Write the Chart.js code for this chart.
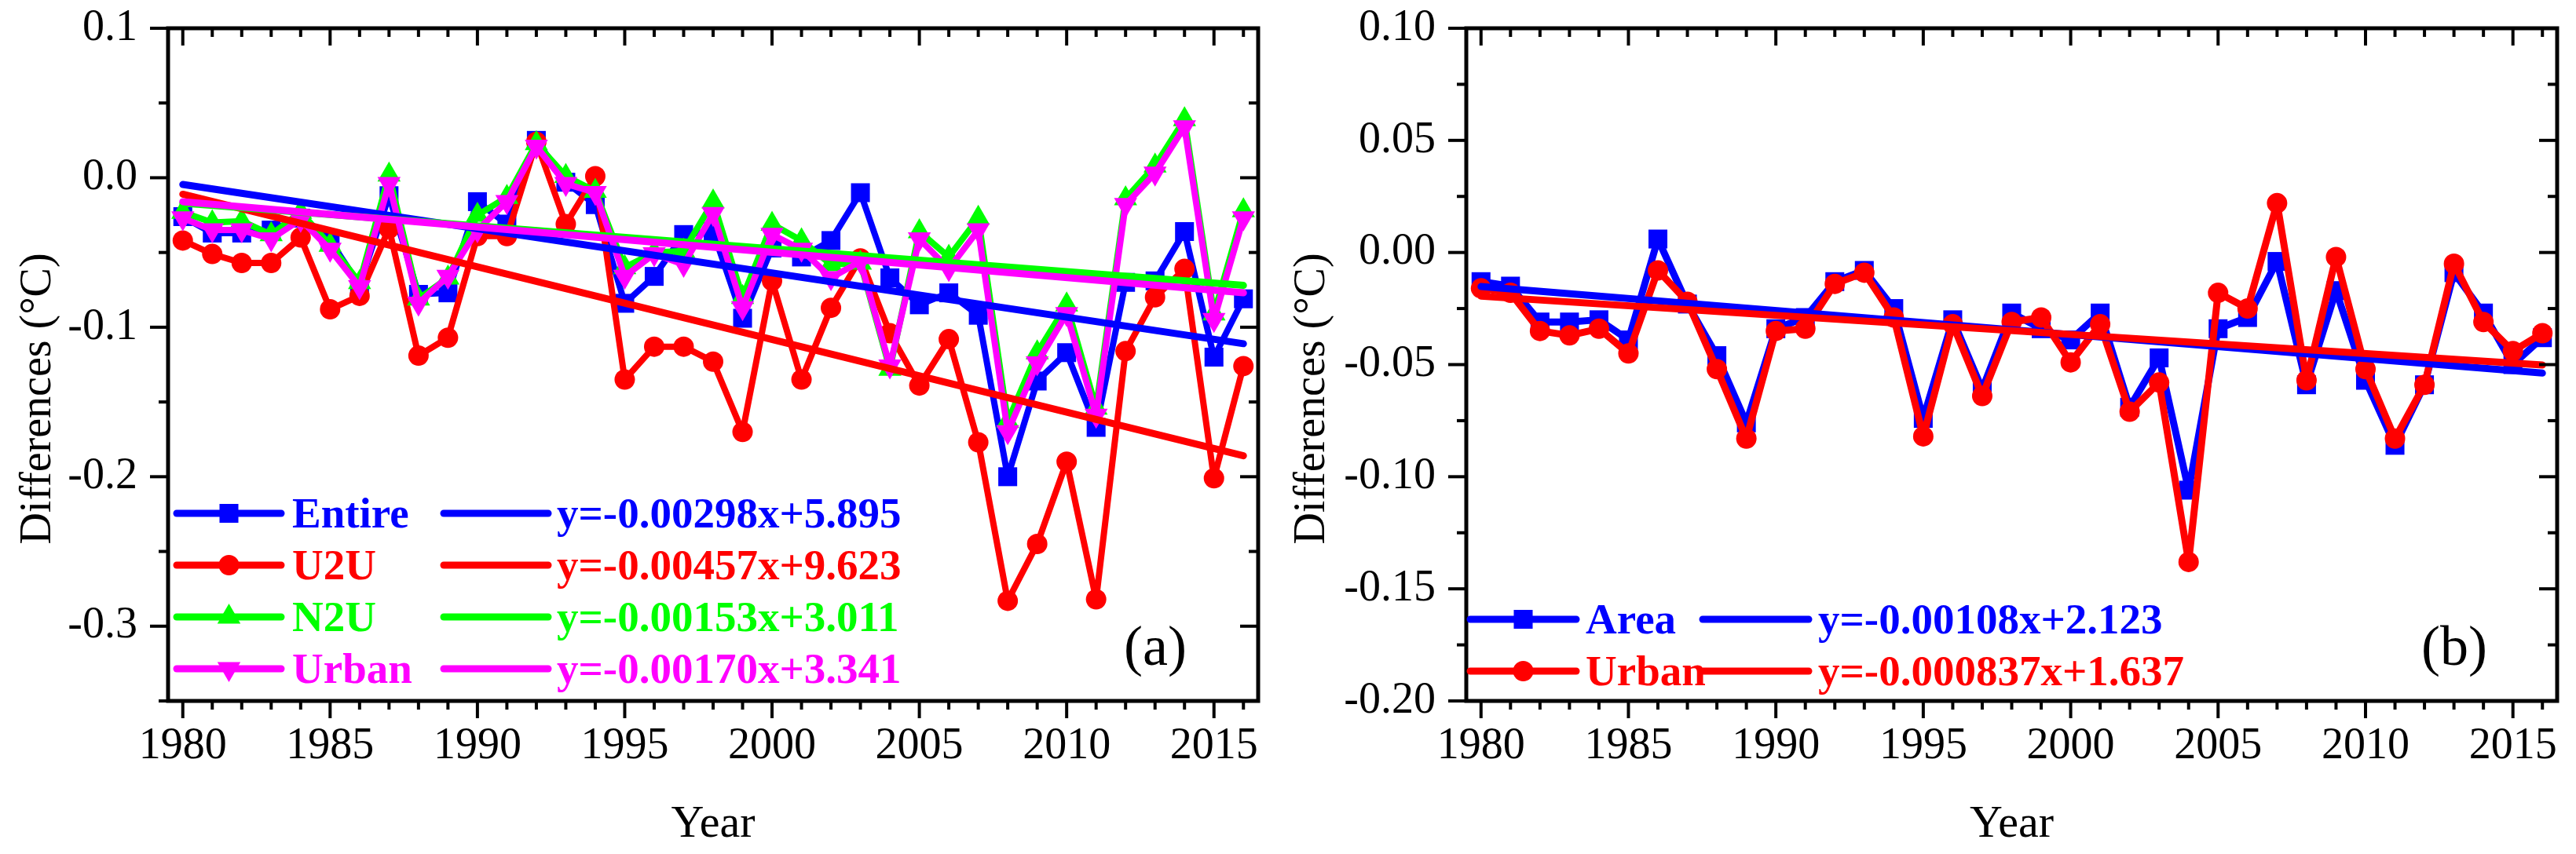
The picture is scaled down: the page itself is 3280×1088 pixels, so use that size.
<!DOCTYPE html>
<html>
<head>
<meta charset="utf-8">
<title>Differences</title>
<script src="https://cdn.jsdelivr.net/npm/chart.js"></script>
<style>
html,body{margin:0;padding:0;background:#ffffff;width:3280px;height:1088px;overflow:hidden}
#wrap{display:flex;width:3280px;height:1088px}
canvas{display:block}
</style>
</head>
<body>
<div id="wrap"><canvas id="chartA" width="1640" height="1088"></canvas><canvas id="chartB" width="1640" height="1088"></canvas></div>
<script>
// ---------------- data ----------------
const years = [1980,1981,1982,1983,1984,1985,1986,1987,1988,1989,1990,1991,1992,1993,1994,1995,1996,1997,1998,1999,2000,2001,2002,2003,2004,2005,2006,2007,2008,2009,2010,2011,2012,2013,2014,2015,2016];

// panel (a)
const entire = [-0.026,-0.037,-0.037,-0.035,-0.027,-0.042,-0.072,-0.012,-0.078,-0.077,-0.016,-0.031,0.025,-0.003,-0.018,-0.084,-0.066,-0.038,-0.036,-0.094,-0.047,-0.053,-0.042,-0.010,-0.067,-0.085,-0.077,-0.092,-0.200,-0.136,-0.117,-0.167,-0.070,-0.069,-0.036,-0.120,-0.081];
const u2u = [-0.042,-0.051,-0.057,-0.057,-0.040,-0.088,-0.079,-0.034,-0.119,-0.107,-0.039,-0.039,0.024,-0.031,0.001,-0.135,-0.113,-0.113,-0.123,-0.170,-0.069,-0.135,-0.087,-0.054,-0.104,-0.139,-0.108,-0.177,-0.283,-0.245,-0.190,-0.282,-0.116,-0.080,-0.061,-0.201,-0.126];
const n2u = [-0.023,-0.030,-0.029,-0.038,-0.023,-0.045,-0.070,0.002,-0.081,-0.067,-0.025,-0.013,0.023,0.001,-0.009,-0.060,-0.050,-0.049,-0.016,-0.080,-0.031,-0.042,-0.058,-0.057,-0.128,-0.036,-0.053,-0.027,-0.163,-0.117,-0.085,-0.154,-0.014,0.008,0.039,-0.091,-0.022];
const urbanA = [-0.027,-0.035,-0.035,-0.041,-0.028,-0.048,-0.073,-0.004,-0.084,-0.066,-0.035,-0.016,0.021,-0.004,-0.010,-0.066,-0.051,-0.058,-0.024,-0.087,-0.038,-0.048,-0.067,-0.056,-0.126,-0.041,-0.061,-0.035,-0.170,-0.124,-0.091,-0.159,-0.018,0.003,0.034,-0.095,-0.027];

// panel (b)
const area = [-0.013,-0.015,-0.031,-0.031,-0.030,-0.039,0.006,-0.023,-0.046,-0.076,-0.034,-0.029,-0.013,-0.008,-0.025,-0.074,-0.030,-0.061,-0.027,-0.034,-0.039,-0.027,-0.069,-0.047,-0.106,-0.034,-0.029,-0.004,-0.059,-0.017,-0.057,-0.086,-0.059,-0.009,-0.027,-0.050,-0.038];
const urbanB = [-0.016,-0.018,-0.035,-0.037,-0.034,-0.045,-0.008,-0.022,-0.052,-0.083,-0.035,-0.034,-0.014,-0.009,-0.029,-0.082,-0.032,-0.064,-0.031,-0.029,-0.049,-0.032,-0.071,-0.058,-0.138,-0.018,-0.025,0.022,-0.057,-0.002,-0.052,-0.083,-0.059,-0.005,-0.031,-0.044,-0.036];

// linear fit lines (values at first and last year)
const fitYears = [1980, 2016];
const fitEntire = [-0.0045, -0.111];
const fitU2U = [-0.011, -0.186];
const fitN2U = [-0.017, -0.072];
const fitUrbanA = [-0.016, -0.077];
const fitArea = [-0.0152, -0.0538];
const fitUrbanB = [-0.0195, -0.0502];

// tick labels
const xTickLabels = [1980,1985,1990,1995,2000,2005,2010,2015];
const yTickLabelsA = [0.1, 0.0, -0.1, -0.2, -0.3];
const yTickLabelsB = [0.10, 0.05, 0.00, -0.05, -0.10, -0.15, -0.20];

// legend texts
const legendNamesA = ['Entire', 'U2U', 'N2U', 'Urban'];
const equationsA = ['y=-0.00298x+5.895', 'y=-0.00457x+9.623', 'y=-0.00153x+3.011', 'y=-0.00170x+3.341'];
const legendNamesB = ['Area', 'Urban'];
const equationsB = ['y=-0.00108x+2.123', 'y=-0.000837x+1.637'];

// ---------------- styling / helpers ----------------
const FONT = "'Liberation Serif', 'Times New Roman', Times, serif";
const BLUE = '#0000ff', RED = '#ff0000', GREEN = '#00ff00', MAGENTA = '#ff00ff';
Chart.defaults.font.family = FONT;
Chart.defaults.color = '#000';

function series(vals) { return years.map((yr, i) => ({x: yr, y: vals[i]})); }
function fitLine(ends) { return fitYears.map((yr, i) => ({x: yr, y: ends[i]})); }

function dataDs(label, vals, color, style, radius, rotation, lw, order) {
  return {
    label, data: series(vals), order,
    borderColor: color, backgroundColor: color, borderWidth: lw,
    borderJoinStyle: 'round', tension: 0,
    pointStyle: style, pointRadius: radius, pointRotation: rotation,
    pointBackgroundColor: color, pointBorderColor: color, pointBorderWidth: 0,
    pointHoverRadius: radius
  };
}
function fitDs(label, ends, color, lw, order) {
  return {
    label, data: fitLine(ends), order,
    borderColor: color, backgroundColor: color, borderWidth: lw,
    borderCapStyle: 'round', pointRadius: 0, pointHoverRadius: 0, tension: 0
  };
}

const decor = {
  id: 'decor',
  afterDatasetsDraw(chart, args, o) {
    const {ctx, chartArea: a} = chart;
    const xs = chart.scales.x, ys = chart.scales.y;
    const seg = (x0, y0, x1, y1) => { ctx.beginPath(); ctx.moveTo(x0, y0); ctx.lineTo(x1, y1); ctx.stroke(); };
    ctx.save();
    // ticks
    ctx.strokeStyle = '#000'; ctx.lineWidth = 4; ctx.lineCap = 'butt';
    years.forEach(v => {
      const px = xs.getPixelForValue(v);
      const L = xTickLabels.includes(v) ? 22 : 11;
      seg(px, a.bottom, px, a.bottom + L);
      seg(px, a.top, px, a.top + L);
    });
    const yt = (vals, L) => vals.forEach(v => {
      const py = ys.getPixelForValue(v);
      seg(a.left - L, py, a.left, py);
      seg(a.right - L, py, a.right, py);
    });
    yt(o.yMajor, 23); yt(o.yMinor, 12);
    // frame
    ctx.lineWidth = 5; ctx.lineJoin = 'miter';
    ctx.strokeRect(a.left, a.top, a.right - a.left, a.bottom - a.top);

    // legend
    o.legend.forEach((it, i) => {
      const y = o.legendY[i];
      ctx.strokeStyle = it.color; ctx.fillStyle = it.color;
      ctx.lineWidth = o.lw; ctx.lineCap = 'round';
      seg(o.lx0, y, o.lx1, y);
      Chart.helpers.drawPoint(ctx, {pointStyle: it.style, radius: it.radius, rotation: it.rotation || 0, borderWidth: 0}, (o.lx0 + o.lx1) / 2, y);
      seg(o.fx0, y, o.fx1, y);
      ctx.font = `bold 55px ${FONT}`;
      ctx.textAlign = 'left'; ctx.textBaseline = 'alphabetic';
      ctx.fillText(it.name, o.tx, y + 18);
      ctx.fillText(it.eq, o.ex, y + 18);
    });

    // axis titles and panel tag
    ctx.fillStyle = '#000';
    ctx.textAlign = 'center'; ctx.textBaseline = 'alphabetic';
    ctx.font = `58px ${FONT}`;
    ctx.fillText('Year', (a.left + a.right) / 2, 1066);
    ctx.save();
    ctx.translate(o.yTitleX, 508);
    ctx.rotate(-Math.PI / 2);
    ctx.font = `56px ${FONT}`;
    ctx.fillText('Differences (\u00B0C)', 0, 0);
    ctx.restore();
    ctx.font = `72px ${FONT}`;
    ctx.fillText(o.tag, a.right - 131, 847);
    ctx.restore();
  }
};

function noPad(s) { s.paddingTop = 0; s.paddingBottom = 0; s.paddingLeft = 0; s.paddingRight = 0; }

function makeChart(id, cfg) {
  return new Chart(document.getElementById(id), {
    type: 'line',
    data: {datasets: cfg.datasets},
    plugins: [decor],
    options: {
      responsive: false,
      devicePixelRatio: 1,
      animation: false,
      events: [],
      layout: {padding: {left: 0, right: cfg.padRight, top: 36, bottom: 0}},
      scales: {
        x: {
          type: 'linear', min: 1979.5, max: 2016.5,
          afterBuildTicks: s => { s.ticks = xTickLabels.map(v => ({value: v})); },
          ticks: {font: {family: FONT, size: 56, weight: 'normal'}, color: '#000', padding: 25, maxRotation: 0, autoSkip: false,
                  callback: v => String(v)},
          grid: {display: false, drawTicks: false},
          border: {display: false},
          afterFit: s => { s.height = 1088 - 893; noPad(s); }
        },
        y: {
          type: 'linear', min: cfg.yMin, max: cfg.yMax,
          afterBuildTicks: s => { s.ticks = cfg.yLabels.map(v => ({value: v})); },
          ticks: {font: {family: FONT, size: 56, weight: 'normal'}, color: '#000', padding: 39, autoSkip: false,
                  callback: v => Number(v).toFixed(cfg.digits)},
          grid: {display: false, drawTicks: false},
          border: {display: false},
          afterFit: s => { s.width = cfg.yWidth; noPad(s); }
        }
      },
      plugins: {
        legend: {display: false},
        tooltip: {enabled: false},
        decor: cfg.decor
      }
    }
  });
}

// ---------------- panel (a) ----------------
makeChart('chartA', {
  yMin: -0.35, yMax: 0.1, yLabels: yTickLabelsA, digits: 1, yWidth: 214, padRight: 38,
  datasets: [
    fitDs('Urban fit', fitUrbanA, MAGENTA, 9, 0),
    fitDs('N2U fit', fitN2U, GREEN, 9, 1),
    fitDs('U2U fit', fitU2U, RED, 9, 2),
    fitDs('Entire fit', fitEntire, BLUE, 9, 3),
    dataDs(legendNamesA[3], urbanA, MAGENTA, 'triangle', 17, 180, 8, 4),
    dataDs(legendNamesA[2], n2u, GREEN, 'triangle', 17, 0, 8, 5),
    dataDs(legendNamesA[1], u2u, RED, 'circle', 13, 0, 8, 6),
    dataDs(legendNamesA[0], entire, BLUE, 'rect', 17, 0, 8, 7)
  ],
  decor: {
    yMajor: yTickLabelsA,
    yMinor: yTickLabelsA.map(v => v - 0.05),
    legendY: [654, 720, 786, 852],
    lx0: 225, lx1: 358, tx: 372, fx0: 565, fx1: 698, ex: 709, lw: 9,
    yTitleX: 64, tag: '(a)',
    legend: [
      {name: legendNamesA[0], eq: equationsA[0], color: BLUE, style: 'rect', radius: 17},
      {name: legendNamesA[1], eq: equationsA[1], color: RED, style: 'circle', radius: 13},
      {name: legendNamesA[2], eq: equationsA[2], color: GREEN, style: 'triangle', radius: 17},
      {name: legendNamesA[3], eq: equationsA[3], color: MAGENTA, style: 'triangle', radius: 17, rotation: 180}
    ]
  }
});

// ---------------- panel (b) ----------------
makeChart('chartB', {
  yMin: -0.2, yMax: 0.1, yLabels: yTickLabelsB, digits: 2, yWidth: 227, padRight: 24,
  datasets: [
    fitDs('Urban fit', fitUrbanB, RED, 9, 0),
    fitDs('Area fit', fitArea, BLUE, 9, 1),
    dataDs(legendNamesB[1], urbanB, RED, 'circle', 13, 0, 9, 2),
    dataDs(legendNamesB[0], area, BLUE, 'rect', 17, 0, 9, 3)
  ],
  decor: {
    yMajor: yTickLabelsB,
    yMinor: yTickLabelsB.slice(0, -1).map(v => v - 0.025),
    legendY: [789, 855],
    lx0: 232, lx1: 367, tx: 379, fx0: 528, fx1: 663, ex: 675, lw: 9,
    yTitleX: 46, tag: '(b)',
    legend: [
      {name: legendNamesB[0], eq: equationsB[0], color: BLUE, style: 'rect', radius: 17},
      {name: legendNamesB[1], eq: equationsB[1], color: RED, style: 'circle', radius: 13}
    ]
  }
});
</script>
</body>
</html>
